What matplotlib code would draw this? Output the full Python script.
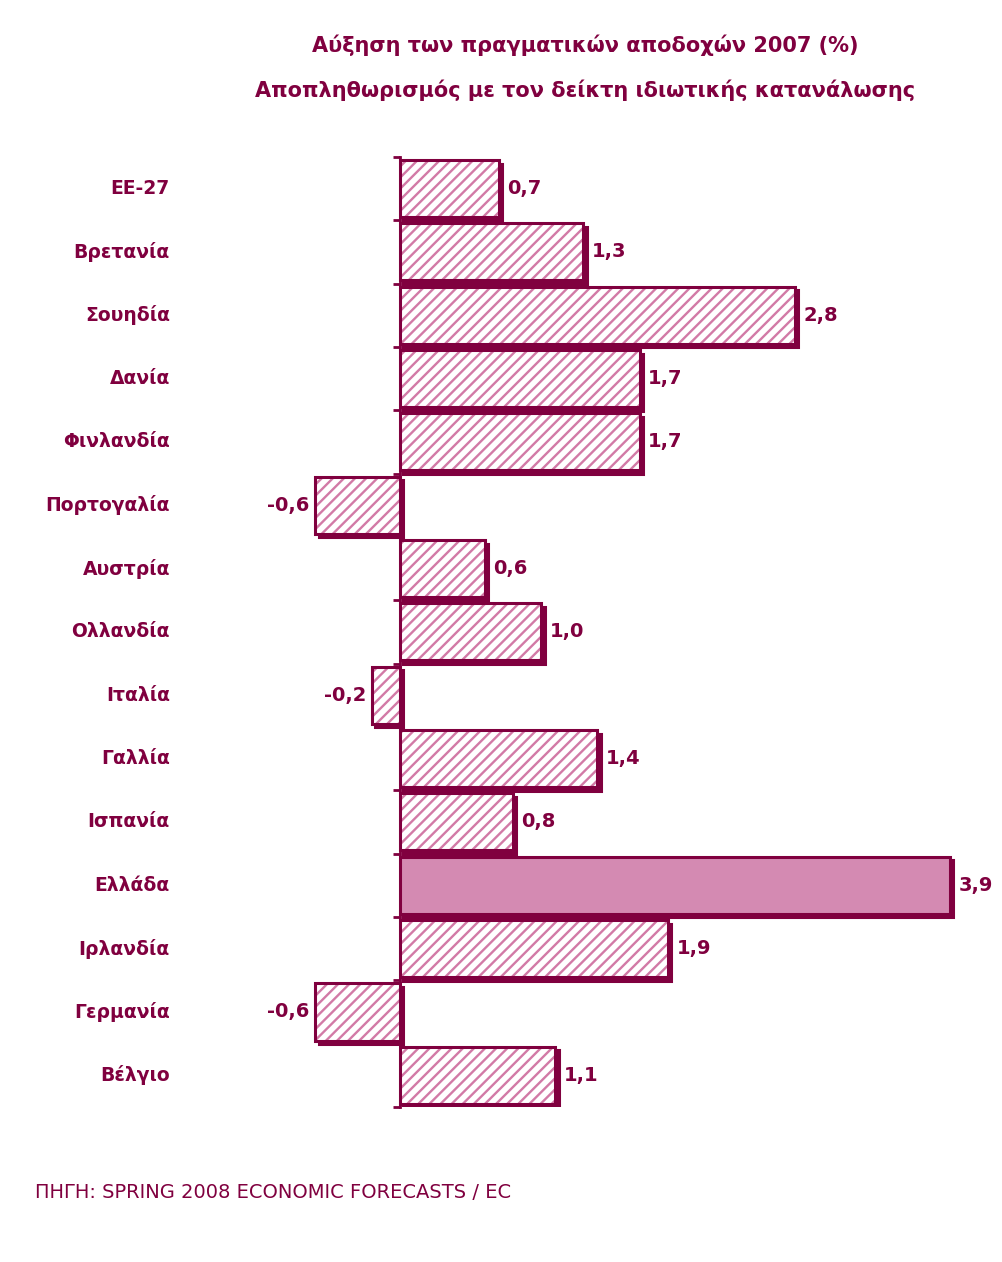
import matplotlib
matplotlib.use("Agg")
import matplotlib.pyplot as plt
from matplotlib.transforms import ScaledTranslation, blended_transform_factory

countries = ["ΕΕ-27", "Βρετανία", "Σουηδία", "Δανία", "Φινλανδία", "Πορτογαλία",
             "Αυστρία", "Ολλανδία", "Ιταλία", "Γαλλία", "Ισπανία", "Ελλάδα",
             "Ιρλανδία", "Γερμανία", "Βέλγιο"]
values = [0.7, 1.3, 2.8, 1.7, 1.7, -0.6, 0.6, 1.0, -0.2, 1.4, 0.8, 3.9, 1.9, -0.6, 1.1]
value_labels = ["0,7", "1,3", "2,8", "1,7", "1,7", "-0,6", "0,6", "1,0", "-0,2", "1,4",
                "0,8", "3,9", "1,9", "-0,6", "1,1"]
highlight = "Ελλάδα"
title_lines = ["Αύξηση των πραγματικών αποδοχών 2007 (%)",
               "Αποπληθωρισμός με τον δείκτη ιδιωτικής κατανάλωσης"]
source = "ΠΗΓΗ: SPRING 2008 ECONOMIC FORECASTS / EC"

DARK = "#80003f"
PINK = "#d48ab2"
HATCH_PINK = "#d27aa6"
FAM = ["DejaVu Sans"]

plt.rcParams["hatch.linewidth"] = 1.7

fig = plt.figure(figsize=(10.03, 12.62), dpi=100)
ax = fig.add_axes([200 / 1003, 155 / 1262, 780 / 1003, 950 / 1262])

ypos = list(range(len(countries)))
h = 0.9

shadow = ax.transData + ScaledTranslation(0.035, -0.035, fig.dpi_scale_trans)
sh = ax.barh(ypos, values, height=h, color=DARK, edgecolor=DARK, linewidth=2.2, zorder=1)
for p in sh:
    p.set_transform(shadow)

for y, v, c in zip(ypos, values, countries):
    if c == highlight:
        ax.barh(y, v, height=h, color=PINK, edgecolor=DARK, linewidth=2.2, zorder=2)
    else:
        ax.barh(y, v, height=h, color="white", edgecolor=HATCH_PINK, hatch="///",
                linewidth=0, zorder=2)
        ax.barh(y, v, height=h, fill=False, edgecolor=DARK, linewidth=2.2, zorder=3)

for y, v, lab in zip(ypos, values, value_labels):
    if v >= 0:
        ax.text(v + 0.06, y, lab, ha="left", va="center", fontsize=14, fontweight="bold",
                color=DARK, family=FAM, zorder=4)
    else:
        ax.text(v - 0.04, y, lab, ha="right", va="center", fontsize=14, fontweight="bold",
                color=DARK, family=FAM, zorder=4)

tr = blended_transform_factory(ax.transAxes, ax.transData)
for y, c in zip(ypos, countries):
    ax.text((170 - 200) / 780, y, c, transform=tr, ha="right", va="center", fontsize=13.5,
            fontweight="bold", color=DARK, family=FAM)

ax.set_xlim(-200 / 141, 580 / 141)
ax.set_ylim(len(countries) - 0.5, -0.5)
for s in ["top", "right", "bottom"]:
    ax.spines[s].set_visible(False)
ax.spines["left"].set_position(("data", 0))
ax.spines["left"].set_color(DARK)
ax.spines["left"].set_linewidth(2)
ax.set_xticks([])
ax.set_yticks([i - 0.5 for i in range(len(countries) + 1)])
ax.set_yticklabels([])
ax.tick_params(axis="y", length=5, width=2, color=DARK, direction="out")

fig.text(585 / 1003, 1 - 45 / 1262, title_lines[0], ha="center", va="center", fontsize=15,
         fontweight="bold", color=DARK, family=FAM)
fig.text(585 / 1003, 1 - 90 / 1262, title_lines[1], ha="center", va="center", fontsize=15,
         fontweight="bold", color=DARK, family=FAM)
fig.text(35 / 1003, 1 - 1193 / 1262, source, ha="left", va="center", fontsize=14,
         color=DARK, family=FAM)

fig.savefig("out.png", dpi=100)
